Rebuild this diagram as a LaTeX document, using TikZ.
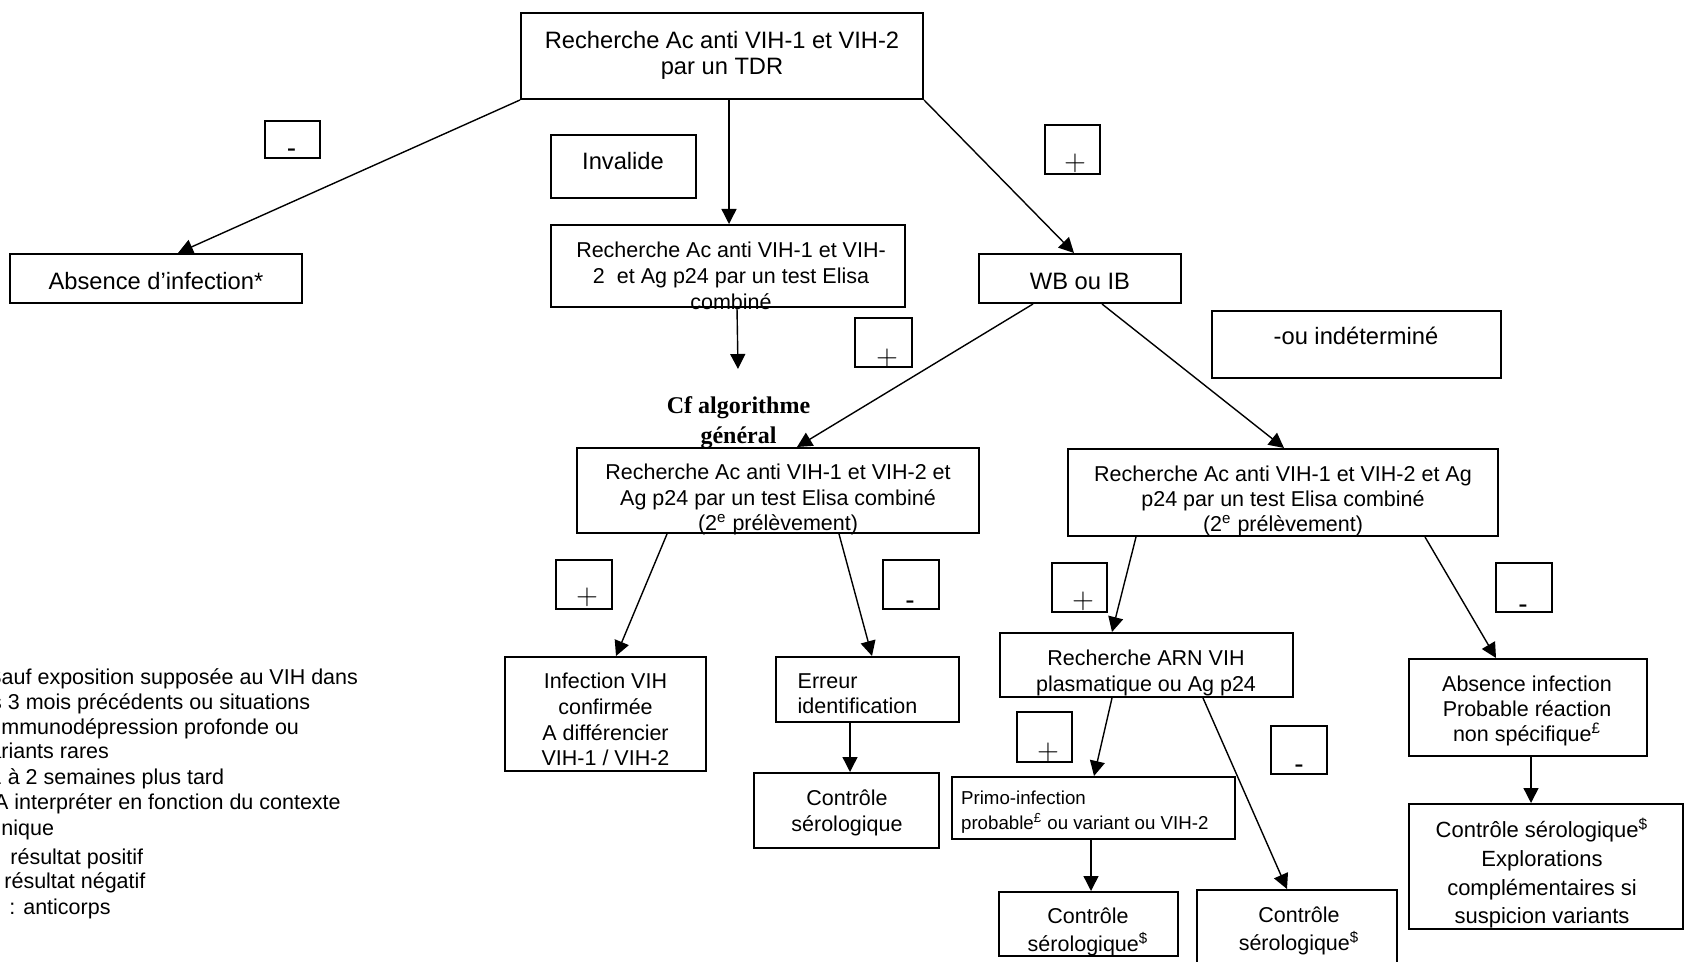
\documentclass[tikz,border=0pt]{standalone}
\usepackage{fontspec}
\setmainfont{Liberation Sans}
\newfontfamily\tnrfam{Liberation Serif}
\usetikzlibrary{arrows.meta,fit,calc}
\tikzset{
  box/.style={draw, line width=1pt, inner sep=0pt},
  conn/.style={line width=0.7pt, -{Triangle[length=7.5pt,width=7.5pt]}},
  txt/.style={inner sep=0pt, align=center},
  txtl/.style={inner sep=0pt, align=left},
  fM/.style={font=\fontsize{10.75}{12.75}\selectfont},
  fL/.style={font=\fontsize{11.85}{14.5}\selectfont},
  plussign/.style={inner sep=0pt, font=\fontsize{14.25}{14.25}\selectfont},
  minussign/.style={inner sep=0pt, anchor=base, font=\fontsize{14}{14}\selectfont},
  legend/.style={inner sep=0pt, anchor=base west, font=\fontsize{10.75}{12.35}\selectfont}
}
\begin{document}
\begin{tikzpicture}[x=0.5pt,y=-0.5pt]
\useasboundingbox (0,0) rectangle (1685,962);
\clip (0,0) rectangle (1685,962);

% ---------- boxes ----------
\node[box, fit={(521,13)(923,99)}] (top) {};
\node[box, fit={(10,254)(302,303)}] (absn) {};
\node[box, fit={(551,135)(696,198)}] (inval) {};
\node[box, fit={(265,121)(320,158)}] (mA) {};
\node[box, fit={(1045,125)(1100,174)}] (pA) {};
\node[box, fit={(551,225)(905,307)}] (elisa1) {};
\node[box, fit={(979,254)(1181,303)}] (wb) {};
\node[box, fit={(1212,311)(1501,378)}] (indet) {};
\node[box, fit={(855,318)(912,367)}] (pB) {};
\node[box, fit={(577,448)(979,533)}] (elisa2) {};
\node[box, fit={(1068,449)(1498,536)}] (elisa3) {};
\node[box, fit={(556,560)(612,609)}] (pC) {};
\node[box, fit={(883,560)(939,609)}] (mB) {};
\node[box, fit={(1052,563)(1107,612)}] (pD) {};
\node[box, fit={(1496,563)(1552,612)}] (mC) {};
\node[box, fit={(505,657)(706,771)}] (infv) {};
\node[box, fit={(776,657)(959,722)}] (erreur) {};
\node[box, fit={(754,773)(939,848)}] (ctrlA) {};
\node[box, fit={(1000,633)(1293,697)}] (arn) {};
\node[box, fit={(1017,712)(1072,762)}] (pE) {};
\node[box, fit={(1271,726)(1327,774)}] (mD) {};
\node[box, fit={(952,777)(1235,839)}] (primo) {};
\node[box, fit={(999,892)(1178,956)}] (ctrlB) {};
\node[box, fit={(1197,890)(1397,975)}] (ctrlC) {};
\node[box, fit={(1409,659)(1647,756)}] (absr) {};
\node[box, fit={(1409,804)(1683,929)}] (explo) {};

% ---------- texts ----------
\node[txt, anchor=north, font=\fontsize{11.85}{13}\selectfont] (topT) at (722,30) {\strut Recherche Ac anti VIH-1 et VIH-2\\par un TDR};
\node[txt, anchor=base, fL] (absnT) at (156,289.5) {Absence d’infection*};
\node[txt, anchor=base, fL] (invalT) at (623,170) {Invalide};
\node[txt, anchor=base, fL] (wbT) at (1080,290) {WB ou IB};
\node[txt, anchor=base, fL] (indetT) at (1356,345) {-ou indéterminé};
\node[txt, anchor=north, font=\fontsize{10.75}{13}\selectfont] (elisa1T) at (731,238.8)
  {\strut Recherche Ac anti VIH-1 et VIH-\\2\ \ et Ag p24 par un test Elisa\\combiné};
\node[txt, anchor=north, font={\tnrfam\bfseries\fontsize{12}{15}\selectfont}] (cfT) at (738.5,392)
  {\strut Cf algorithme\\général};
\node[txt, anchor=north, font=\fontsize{10.75}{12.7}\selectfont] (elisa2T) at (778,461.5)
  {\strut Recherche Ac anti VIH-1 et VIH-2 et\\Ag p24 par un test Elisa combiné\\(2\textsuperscript{e} prélèvement)};
\node[txt, anchor=north, font=\fontsize{10.75}{12.5}\selectfont] (elisa3T) at (1283,464)
  {\strut Recherche Ac anti VIH-1 et VIH-2 et Ag\\p24 par un test Elisa combiné\\(2\textsuperscript{e} prélèvement)};
\node[txt, anchor=north, font=\fontsize{10.75}{12.85}\selectfont] (infvT) at (605.5,670.5)
  {\strut Infection VIH\\confirmée\\A différencier\\VIH-1 / VIH-2};
\node[txtl, anchor=north west, font=\fontsize{10.75}{12.5}\selectfont] (erreurT) at (797.3,671)
  {\strut Erreur\\identification};
\node[txt, anchor=north, font=\fontsize{10.75}{13}\selectfont] (ctrlAT) at (847,787)
  {\strut Contrôle\\sérologique};
\node[txt, anchor=north, font=\fontsize{10.75}{13.3}\selectfont] (arnT) at (1146,646.3)
  {\strut Recherche ARN VIH\\plasmatique ou Ag p24};
\node[txtl, anchor=north west, font=\fontsize{9.35}{11.5}\selectfont] (primoT) at (960.7,787.5)
  {\strut Primo-infection\\probable\textsuperscript{£} ou variant ou VIH-2};
\node[txt, anchor=north, font=\fontsize{10.75}{12.2}\selectfont] (ctrlBT) at (1088,906)
  {\strut Contrôle\\sérologique\textsuperscript{\$}};
\node[txt, anchor=north, font=\fontsize{10.75}{12.6}\selectfont] (ctrlCT) at (1299,904)
  {\strut Contrôle\\sérologique\textsuperscript{\$}};
\node[txt, anchor=north, font=\fontsize{10.75}{12.5}\selectfont] (absrT) at (1527,674)
  {\strut Absence infection\\Probable réaction\\non spécifique\textsuperscript{£}};
\node[txt, anchor=north, font=\fontsize{11}{14.3}\selectfont] (exploT) at (1542,817.5)
  {\strut Contrôle sérologique\textsuperscript{\$}\\Explorations\\complémentaires si\\suspicion variants};

% signs
\node[minussign] (mAT) at (291.5,158) {-};
\node[plussign] (pAT) at (1075,163) {$+$};
\node[plussign] (pBT) at (887,358) {$+$};
\node[plussign] (pCT) at (587,597) {$+$};
\node[minussign] (mBT) at (910,609) {-};
\node[plussign] (pDT) at (1083,601) {$+$};
\node[minussign] (mCT) at (1523,613) {-};
\node[plussign] (pET) at (1048,752) {$+$};
\node[minussign] (mDT) at (1299,773) {-};

% legend (cut by the left edge)
\node[legend] (lg1) at (-13,684.6) {Sauf exposition supposée au VIH dans};
\node[legend] (lg2) at (-26,709.3) {les 3 mois précédents ou situations};
\node[legend] (lg3) at (-20.5,734) {d’immunodépression profonde ou};
\node[legend] (lg4) at (-21.7,758.7) {variants rares};
\node[legend] (lg5) at (-10.5,784.5) {1 à 2 semaines plus tard};
\node[legend] (lg6) at (-6.3,809.3) {A interpréter en fonction du contexte};
\node[legend] (lg7) at (-19.3,835.1) {clinique};
\node[legend] (lg8) at (10,864.1) {résultat positif};
\node[legend] (lg9) at (4,888.8) {résultat négatif};
\node[legend] (lg10) at (9,914.6) {: anticorps};

% ---------- connectors ----------
\coordinate (cfa) at (738,369);
\draw[conn] (top.south west) -- ($(absn.north west)+(169,0)$);
\draw[conn] ($(top.south west)+(209,0)$) -- ($(elisa1.north west)+(179,0)$);
\draw[conn] (top.south east) -- ($(wb.north west)+(96,0)$);
\draw[conn] ($(elisa1.south west)+(187,0)$) -- (cfa);
\draw[conn] ($(wb.south west)+(55,0)$) -- ($(elisa2.north west)+(221,0)$);
\draw[conn] ($(wb.south west)+(124,0)$) -- ($(elisa3.north west)+(217,0)$);
\draw[conn] ($(elisa2.south west)+(91,0)$) -- ($(infv.north west)+(112,0)$);
\draw[conn] ($(elisa2.south west)+(263,0)$) -- ($(erreur.north west)+(97,0)$);
\draw[conn] ($(erreur.south west)+(75,0)$) -- ($(ctrlA.north west)+(97,0)$);
\draw[conn] ($(elisa3.south west)+(69,0)$) -- ($(arn.north west)+(113,0)$);
\draw[conn] ($(elisa3.south west)+(358,0)$) -- ($(absr.north west)+(88,0)$);
\draw[conn] ($(arn.south west)+(113,0)$) -- ($(primo.north west)+(143,0)$);
\draw[conn] ($(arn.south west)+(204,0)$) -- ($(ctrlC.north west)+(91,0)$);
\draw[conn] ($(primo.south west)+(140,0)$) -- ($(ctrlB.north west)+(93,0)$);
\draw[conn] ($(absr.south west)+(123,0)$) -- ($(explo.north west)+(123,0)$);
\end{tikzpicture}
\end{document}
